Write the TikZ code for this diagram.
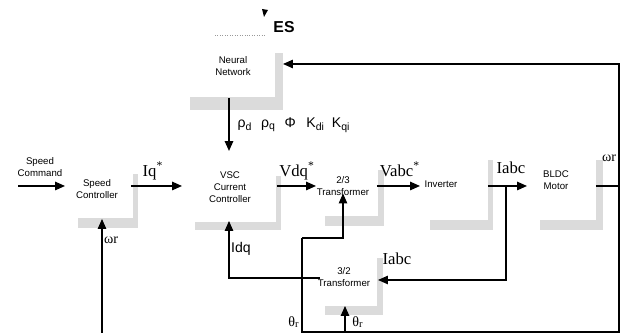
\documentclass[tikz,border=0pt]{standalone}
\usepackage{fontspec}
\setmainfont{Liberation Serif}
\setsansfont{Liberation Sans}
\usetikzlibrary{arrows.meta,calc}
\begin{document}
\begin{tikzpicture}[x=0.02cm,y=-0.02cm,
  box/.style={rectangle,inner sep=0pt,outer sep=0pt},
  boxtext/.style={font=\sffamily\fontsize{5.5}{7}\selectfont,align=center,inner sep=0pt},
  lab/.style={font=\fontsize{9.5}{11}\selectfont,inner sep=0pt},
  slab/.style={font=\sffamily\fontsize{8}{10}\selectfont,inner sep=0pt},
  shade/.style={fill=black!14},
  arr/.style={-{Triangle[length=0.2cm,width=0.17cm]},line width=0.9pt},
  fb/.style={line width=0.7pt},
  fbarr/.style={-{Triangle[length=0.2cm,width=0.17cm]},line width=0.7pt}]
\useasboundingbox (0,0) rectangle (630,333);
% box nodes (white areas)
\node[box,minimum width=1.32cm,minimum height=0.9cm] (sc) at (98,196.5) {};
\node[box,minimum width=1.9cm,minimum height=1.4cm] (vsc) at (229.5,186) {};
\node[box,minimum width=2.16cm,minimum height=1.26cm] (nn) at (229,66.5) {};
\node[box,minimum width=1.22cm,minimum height=0.9cm] (t23) at (346.5,171) {};
\node[box,minimum width=1.36cm,minimum height=1.2cm] (inv) at (454,190) {};
\node[box,minimum width=1.38cm,minimum height=1.2cm] (bldc) at (561.5,190) {};
\node[box,minimum width=1.16cm,minimum height=1.02cm] (t32) at (349,280.5) {};
% shadows
\fill[shade] (133,174) rectangle (138,228); \fill[shade] (78,218) rectangle (138,228);
\fill[shade] (276,176) rectangle (281,230); \fill[shade] (195,222) rectangle (281,230);
\fill[shade] (275,53) rectangle (283,110); \fill[shade] (190,97) rectangle (283,110);
\fill[shade] (378,170) rectangle (384,226); \fill[shade] (325,216) rectangle (384,226);
\fill[shade] (488,160) rectangle (493,230); \fill[shade] (430,220) rectangle (493,230);
\fill[shade] (596,160) rectangle (603,230); \fill[shade] (540,220) rectangle (603,230);
\fill[shade] (377,258) rectangle (383,315); \fill[shade] (325,306) rectangle (383,315);
\draw[black!40,densely dotted] (215,35) -- (265,35);
% box texts
\node[boxtext] (scT) at (97,189) {Speed\\Controller};
\node[boxtext] (vscT) at (230,187) {VSC\\Current\\Controller};
\node[boxtext] (nnT) at (233,66) {Neural\\Network};
\node[boxtext] (t23T) at (343,186) {2/3\\Transformer};
\node[boxtext] (invT) at (441,184) {Inverter};
\node[boxtext] (bldcT) at (556,180) {BLDC\\Motor};
\node[boxtext] (t32T) at (344,277) {3/2\\Transformer};
\node[boxtext] (cmdT) at (40,167) {Speed\\Command};
% coordinates
\coordinate (cmd) at (18,186);
\coordinate (tr) at (619,64);
\coordinate (brc) at (619,332);
\coordinate (blc) at (302,332);
\coordinate (th1) at (302,238);
\coordinate (j23) at (343,238);
\coordinate (j32) at (345,332);
\coordinate (br) at (506,186);
\coordinate (br2) at (506,280);
\coordinate (idq) at (229,278);
\coordinate (wbot) at (102,333);
% connectors
\draw[arr] (cmd) -- (cmd -| sc.west);
\draw[arr] (sc.east |- cmd) -- (vsc.west |- cmd);
\draw[arr] (vsc.east |- cmd) -- (t23.west |- cmd);
\draw[arr] (t23.east |- cmd) -- (inv.west |- cmd);
\draw[arr] (inv.east |- cmd) -- (bldc.west |- cmd);
\draw[fbarr] (bldc.east |- cmd) -- (cmd -| tr) -- (tr) -- (tr -| nn.east);
\draw[fb] (tr) -- (brc) -- (blc) -- (th1);
\draw[fbarr] (th1) -- (j23) -- (j23 |- t23.south);
\draw[arr] (j32) -- (j32 |- t32.south);
\draw[fbarr] (br) -- (br2) -- (br2 -| t32.east);
\draw[fbarr] (t32.west |- idq) -- (idq) -- (idq |- vsc.south);
\draw[fbarr] (wbot) -- (wbot |- sc.south);
\draw[arr] (nn.south) -- (nn.south |- vsc.north);
% ES marker
\fill (262,9) -- (268,10) -- (264,17) -- cycle;
\node[font=\sffamily\bfseries\fontsize{9}{11}\selectfont,inner sep=0pt] (es) at (284,27) {ES};
% labels
\node[lab] (lIq) at (153,171) {Iq\textsuperscript{*}};
\node[lab] (lVdq) at (297,171) {Vdq\textsuperscript{*}};
\node[lab] (lVabc) at (400,169) {Vabc\textsuperscript{*}};
\node[lab] (lIabc) at (511,168) {Iabc};
\node[lab] (lIabc2) at (397,259) {Iabc};
\node[slab] (lIdq) at (241,249) {Idq};
\node[slab] (lparams) at (294,125) {ρ\textsubscript{d}\hspace{5pt}ρ\textsubscript{q}\hspace{5pt}Φ\hspace{6pt}K\textsubscript{di}\hspace{4pt}K\textsubscript{qi}};
\node[lab,font=\fontsize{8}{10}\selectfont] (lw1) at (111,240) {ωr};
\node[lab,font=\fontsize{8}{10}\selectfont] (lw2) at (609,158) {ωr};
\node[lab,font=\fontsize{8}{10}\selectfont] (lt1) at (294,322) {θ\textsubscript{r}};
\node[lab,font=\fontsize{8}{10}\selectfont] (lt2) at (358,322) {θ\textsubscript{r}};
\end{tikzpicture}
\end{document}
